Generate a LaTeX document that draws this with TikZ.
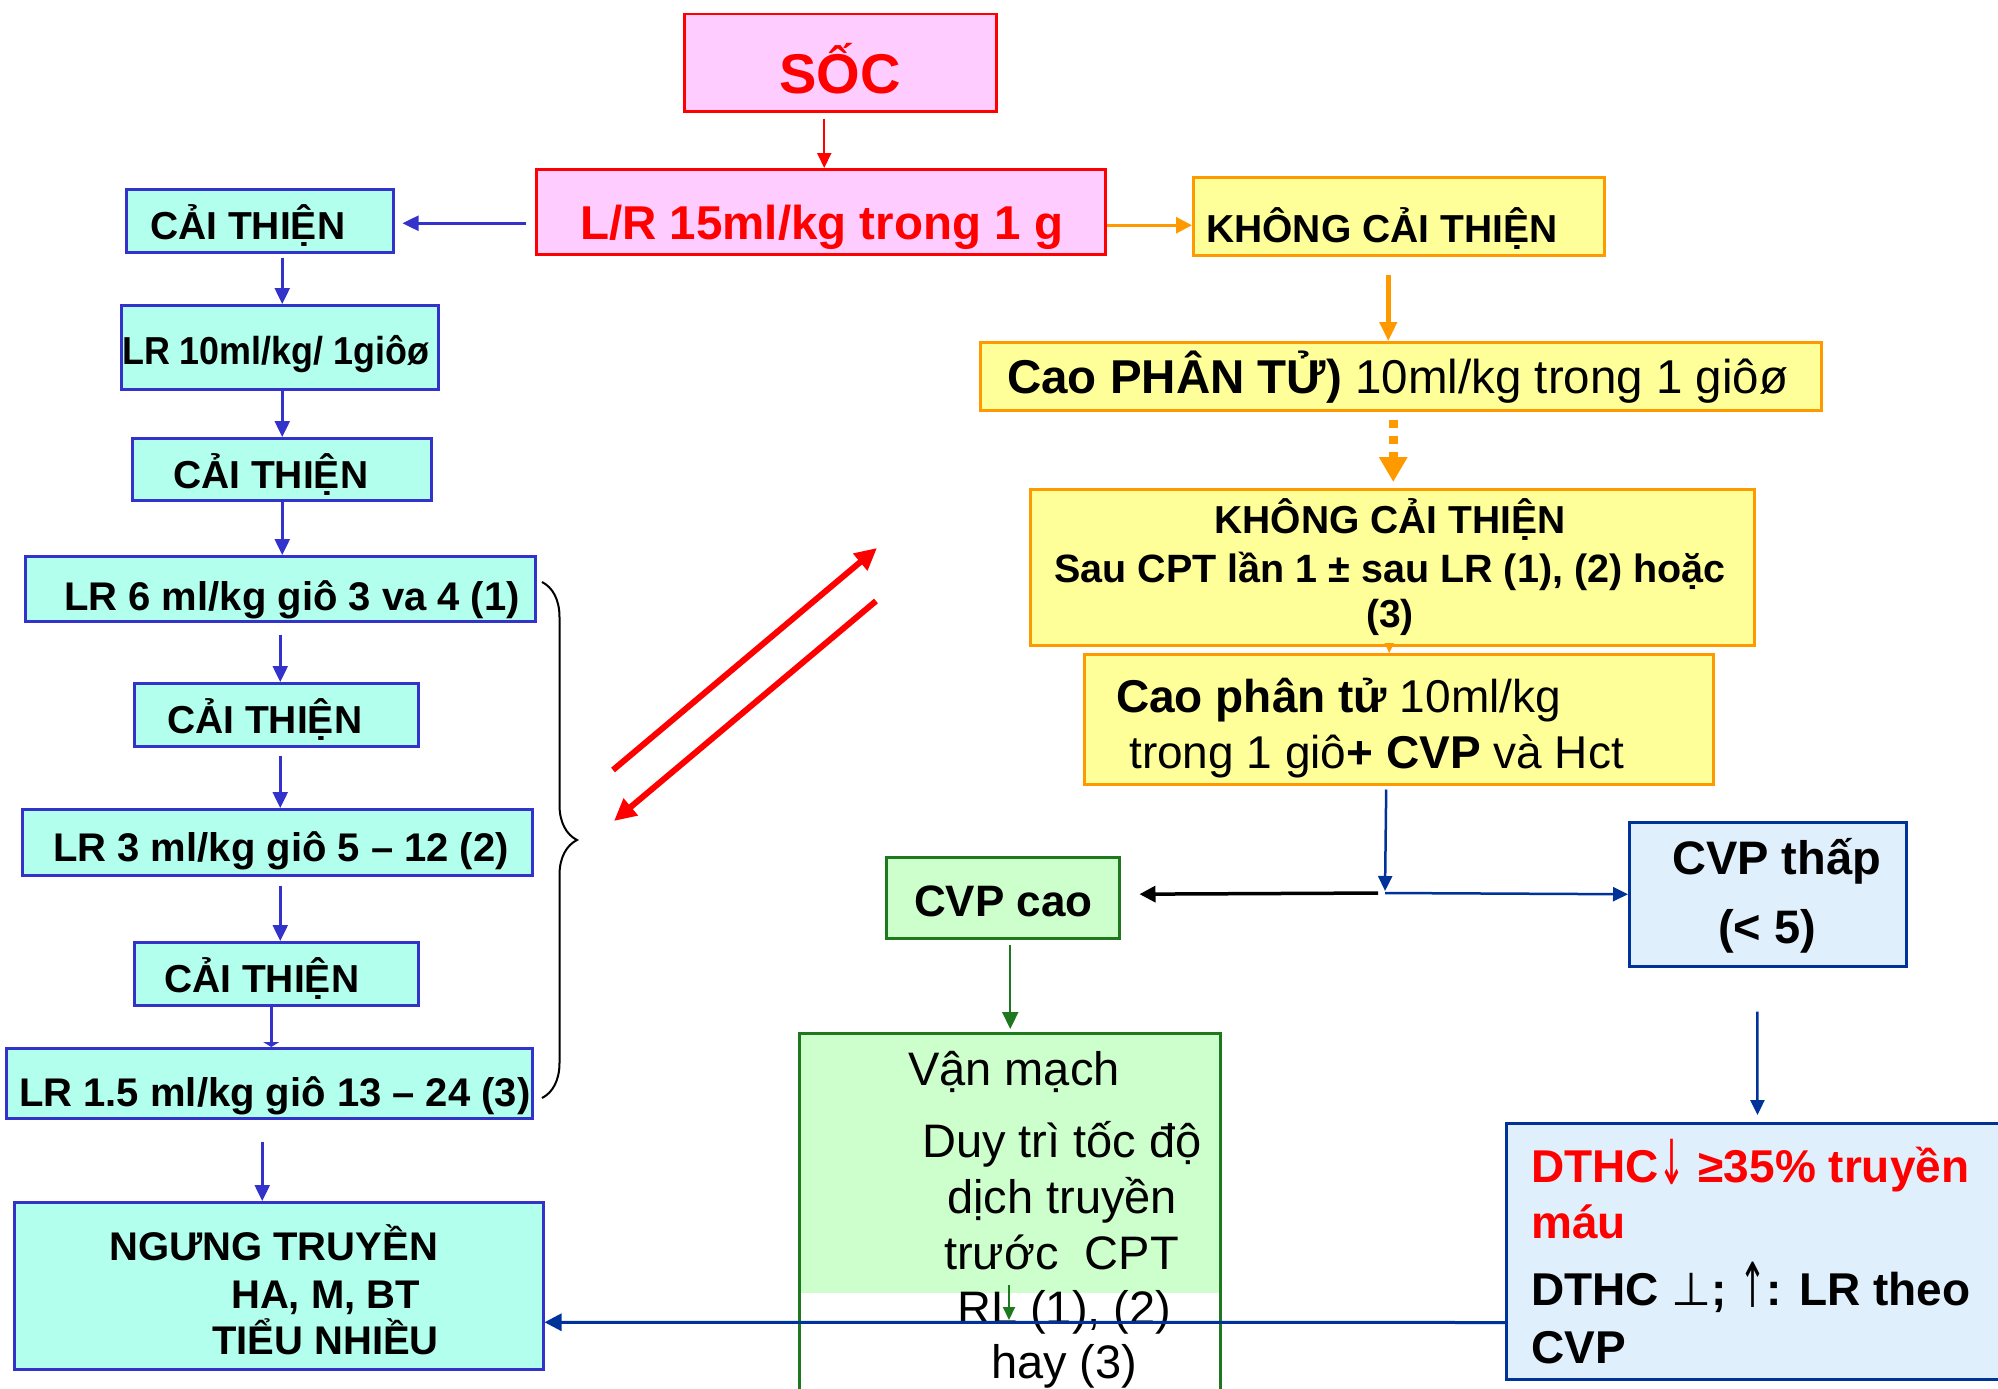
\documentclass[tikz,border=0pt]{standalone}
\usepackage{fontspec}
\usepackage{graphicx}
\setmainfont{Liberation Sans}
\newfontfamily\symfont{DejaVu Sans}
\usetikzlibrary{arrows.meta,decorations.pathreplacing}
\definecolor{pinkfill}{HTML}{FFCCFF}
\definecolor{redline}{HTML}{FF0000}
\definecolor{cyanfill}{HTML}{B3FFEE}
\definecolor{cyanline}{HTML}{3333CC}
\definecolor{yelfill}{HTML}{FFFF99}
\definecolor{orline}{HTML}{FF9900}
\definecolor{grfill}{HTML}{CCFFCC}
\definecolor{grline}{HTML}{1E781E}
\definecolor{blfill}{HTML}{DFF0FC}
\definecolor{blline}{HTML}{003399}
\newcommand\fsz[1]{\fontsize{#1}{#1}\selectfont}
\newcommand\thinarrow[1]{\raisebox{-2pt}{\scalebox{0.7}[1.35]{\mdseries\symfont #1}}}
\begin{document}
\begin{tikzpicture}[x=1pt,y=-1pt,
  box/.style={rectangle, inner sep=0pt, anchor=north west, line width=2.5pt},
  pinkbox/.style={box, draw=redline, fill=pinkfill},
  cyanbox/.style={box, draw=cyanline, fill=cyanfill},
  yelbox/.style={box, draw=orline, fill=yelfill},
  grbox/.style={box, draw=grline, fill=grfill},
  blbox/.style={box, draw=blline, fill=blfill},
  txt/.style={inner sep=0pt, anchor=base west},
  ctxt/.style={inner sep=0pt, anchor=base},
  larr/.style={cyanline, line width=2.5pt, -{Triangle[length=16pt,width=15pt]}},
  redarr/.style={redline, line width=2pt, -{Triangle[length=15pt,width=14pt]}},
  bigred/.style={redline, line width=6pt, -{Triangle[length=22pt,width=21pt]}},
  orarr/.style={orline, line width=3pt, -{Triangle[length=16pt,width=16pt]}},
  orthick/.style={orline, line width=4.5pt, -{Triangle[length=19pt,width=17pt]}},
  ordots/.style={orline, line width=9pt, dash pattern=on 8pt off 8pt, -{Triangle[length=25pt,width=27pt]}},
  bluearr/.style={blline, line width=2.5pt, -{Triangle[length=15pt,width=14pt]}},
  blackarr/.style={black, line width=3.5pt, -{Triangle[length=16pt,width=16pt]}},
  grarr/.style={grline, line width=2.2pt, -{Triangle[length=17pt,width=16pt]}},
]
\clip (0,0) rectangle (1998,1389);

% ---------- boxes ----------
\node[pinkbox, minimum width=312pt, minimum height=97pt] (soc) at (683,13) {};
\node[pinkbox, minimum width=569pt, minimum height=85pt] (lr15) at (535,168) {};
\node[cyanbox, minimum width=267pt, minimum height=63pt] (ct1) at (125,188) {};
\node[cyanbox, minimum width=317pt, minimum height=84pt] (lr10) at (120,304) {};
\node[cyanbox, minimum width=299pt, minimum height=62pt] (ct2) at (131,437) {};
\node[cyanbox, minimum width=510pt, minimum height=65pt] (lr6) at (24,555) {};
\node[cyanbox, minimum width=284pt, minimum height=63pt] (ct3) at (133,682) {};
\node[cyanbox, minimum width=510pt, minimum height=66pt] (lr3) at (21,808) {};
\node[cyanbox, minimum width=284pt, minimum height=63pt] (ct4) at (133,941) {};
\node[cyanbox, minimum width=526pt, minimum height=70pt] (lr15b) at (5,1047) {};
\node[cyanbox, minimum width=529pt, minimum height=167pt] (ngung) at (13,1201) {};
\node[yelbox, minimum width=411pt, minimum height=78pt] (khong1) at (1192,176) {};
\node[yelbox, minimum width=841pt, minimum height=68pt] (cao1) at (979,341) {};
\node[yelbox, minimum width=724pt, minimum height=156pt] (khong2) at (1029,488) {};
\node[yelbox, minimum width=629pt, minimum height=130pt] (cao2) at (1083,653) {};
\node[grbox, minimum width=233pt, minimum height=81pt] (cvpcao) at (885,856) {};
\node[blbox, minimum width=277pt, minimum height=144pt] (cvpthap) at (1628,821) {};
\fill[grfill] (798,1032) rectangle (1219,1293);
\node[box, draw=grline, minimum width=421pt, minimum height=400pt] (vanmach) at (798,1032) {};
\node[blbox, line width=3pt, minimum width=505pt, minimum height=256pt] (dthc) at (1505,1122) {};

% ---------- texts ----------
\node[ctxt] (tsoc) at (840,93) {\fsz{56}\bfseries\color{redline}SỐC};
\node[txt] (tlr15) at (580,239) {\fsz{47.5}\bfseries\color{redline}L/R 15ml/kg trong 1 g};
\node[txt] (tct1) at (150,239) {\fsz{39}\bfseries CẢI THIỆN};
\node[txt] (tlr10) at (122,364) {\scalebox{0.92}[1]{\fsz{39}\bfseries LR 10ml/kg/ 1giôø}};
\node[txt] (tct2) at (173,488) {\fsz{39}\bfseries CẢI THIỆN};
\node[txt] (tlr6) at (64,610) {\fsz{40}\bfseries LR 6 ml/kg giô 3 va 4 (1)};
\node[txt] (tct3) at (167,733) {\fsz{39}\bfseries CẢI THIỆN};
\node[txt] (tlr3) at (53,861) {\fsz{40}\bfseries LR 3 ml/kg giô 5 – 12 (2)};
\node[txt] (tct4) at (164,992) {\fsz{39}\bfseries CẢI THIỆN};
\node[txt] (tlr15b) at (19,1106) {\fsz{40}\bfseries LR 1.5 ml/kg giô 13 – 24 (3)};
\node[txt] (tng1) at (109,1260) {\fsz{40}\bfseries NGƯNG TRUYỀN};
\node[txt] (tng2) at (231,1308) {\fsz{40}\bfseries HA, M, BT};
\node[txt] (tng3) at (212,1354) {\fsz{40}\bfseries TIỂU NHIỀU};
\node[txt] (tkh1) at (1206,242) {\fsz{39}\bfseries KHÔNG CẢI THIỆN};
\node[txt] (tcao1) at (1007,393) {\fsz{47.5}{\bfseries Cao PHÂN TỬ)} 10ml/kg trong 1 giôø};
\node[ctxt] (tkh2a) at (1390,533) {\fsz{39}\bfseries KHÔNG CẢI THIỆN};
\node[ctxt] (tkh2b) at (1390,582) {\fsz{39.5}\bfseries Sau CPT lần 1 ± sau LR (1), (2) hoặc};
\node[ctxt] (tkh2c) at (1390,627) {\fsz{39}\bfseries (3)};
\node[txt] (tcao2a) at (1116,712) {\fsz{46}{\bfseries Cao phân tử} 10ml/kg};
\node[txt] (tcao2b) at (1129,768) {\fsz{46}trong 1 giô{\bfseries + CVP} và Hct};
\node[txt] (tcvpc) at (914,916) {\fsz{44}\bfseries CVP cao};
\node[txt] (tcvpt1) at (1672,874) {\fsz{47}\bfseries CVP thấp};
\node[ctxt] (tcvpt2) at (1767,943) {\fsz{47}\bfseries (< 5)};
\node[txt] (tvm1) at (908,1085) {\fsz{47}Vận mạch};
\node[txt] (tvm2) at (922,1157) {\fsz{47}Duy trì tốc độ};
\node[txt] (tvm3) at (947,1213) {\fsz{47}dịch truyền};
\node[txt] (tvm4) at (944,1269) {\fsz{47}trước\ \ CPT};
\node[txt] (tvm5) at (957,1324) {\fsz{47}RL (1), (2)};
\node[txt] (tvm6) at (991,1378) {\fsz{47}hay (3)};
\node[txt] (tdt1) at (1531,1182) {\fsz{46}\bfseries\color{redline}DTHC\thinarrow{↓} ≥35\% truyền};
\node[txt] (tdt2) at (1531,1238) {\fsz{46}\bfseries\color{redline}máu};
\node[txt] (tdt3) at (1531,1305) {\fsz{46}\bfseries DTHC {\mdseries\symfont ⊥}; \thinarrow{↑}: LR theo};
\node[txt] (tdt4) at (1531,1363) {\fsz{46}\bfseries CVP};

% ---------- connectors ----------
\draw[redarr, shorten <=6pt] ([xshift=-16pt]soc.south) -- ([xshift=3.5pt]lr15.north);
\draw[larr, shorten <=9pt, shorten >=8pt] ([yshift=-11.5pt]lr15.west) -- ([yshift=-2.5pt]ct1.east);
\draw[orarr] ([yshift=-13.5pt]lr15.east) -- ([yshift=-9pt]khong1.west);
\draw[larr, shorten <=4pt] ([xshift=22.5pt]ct1.south) -- ([xshift=2.5pt]lr10.north);
\draw[larr] ([xshift=2.5pt]lr10.south) -- ([xshift=0.5pt]ct2.north);
\draw[larr] ([xshift=0.5pt]ct2.south) -- ([xshift=2pt]lr6.north);
\draw[larr, shorten <=12pt] (lr6.south) -- ([xshift=4pt]ct3.north);
\draw[larr, shorten <=8pt] ([xshift=4pt]ct3.south) -- ([xshift=3pt]lr3.north);
\draw[larr, shorten <=9pt] ([xshift=3pt]lr3.south) -- ([xshift=4pt]ct4.north);
\draw[cyanline, line width=2.5pt, -{Triangle[length=5pt,width=16pt]}] ([xshift=-5pt]ct4.south) -- ([xshift=2pt]lr15b.north);
\draw[larr, shorten <=22pt] ([xshift=-7pt]lr15b.south) -- ([xshift=-16.5pt]ngung.north);

\draw[orthick, shorten <=18pt] ([xshift=-10.5pt]khong1.south) -- ([xshift=-12.5pt]cao1.north);
\draw[ordots, shorten <=8pt, shorten >=6pt] ([xshift=-7.5pt]cao1.south) -- ([xshift=1pt]khong2.north);
\draw[orline, line width=2pt, -{Triangle[length=10pt,width=9pt]}] ([xshift=-3pt]khong2.south) -- ([xshift=-9.5pt]cao2.north);

\coordinate (split) at (1385,893);
\draw[bluearr, shorten <=4pt, shorten >=2pt] ([xshift=-12.5pt]cao2.south) -- (split);
\draw[blackarr, shorten <=7pt, shorten >=19pt] (split) -- ([yshift=3.5pt]cvpcao.east);
\draw[bluearr] (split) -- (cvpthap.west);
\draw[grarr, shorten <=5pt, shorten >=3pt] ([xshift=7.5pt]cvpcao.south) -- ([xshift=0.5pt]vanmach.north);
\draw[bluearr, shorten <=44pt, shorten >=7pt] ([xshift=-10.5pt]cvpthap.south) -- ([xshift=-1.5pt]dthc.north);
\draw[blline, line width=3pt, -{Triangle[length=17pt,width=17pt]}] ([yshift=-71pt]dthc.west) -- ([yshift=-36.5pt]ngung.east);

\coordinate (ga1) at (1009,1285);
\coordinate (ga2) at (1009,1320);
\draw[grline, line width=2pt, -{Triangle[length=13pt,width=12pt]}] (ga1) -- (ga2);

\coordinate (ra1) at (613,770);
\coordinate (ra2) at (877,548);
\coordinate (rb1) at (876,601);
\coordinate (rb2) at (614,821);
\draw[bigred] (ra1) -- (ra2);
\draw[bigred] (rb1) -- (rb2);

\coordinate (brtop) at (542,582);
\coordinate (brbot) at (542,1098);
\draw[black, line width=2pt, decorate, decoration={brace, amplitude=35pt}] (brtop) -- (brbot);
\end{tikzpicture}
\end{document}
